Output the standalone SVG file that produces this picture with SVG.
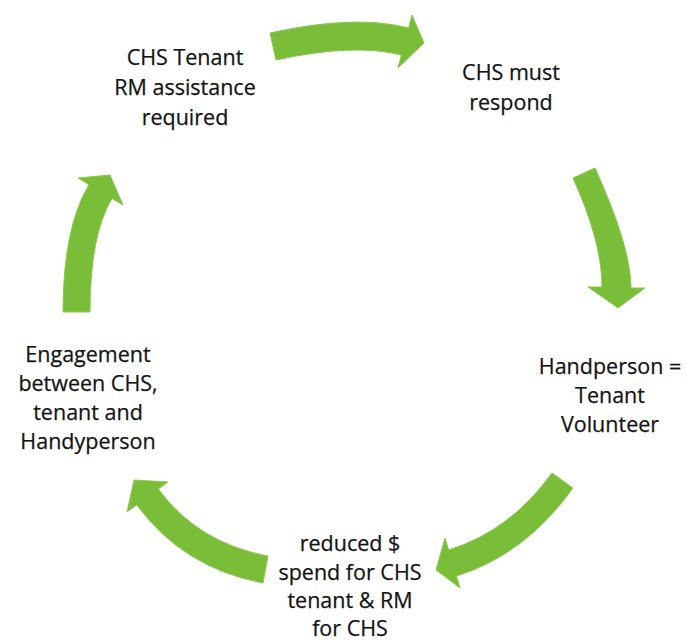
<svg xmlns="http://www.w3.org/2000/svg" width="686" height="642" viewBox="0 0 686 642">
  <style>
    .arrow { fill: #7abd38; stroke: #8cc94f; stroke-width: 1; stroke-linejoin: round; }
    .label { font-family: "Open Sans", "Noto Sans", "Liberation Sans", sans-serif; font-size: 21.5px; fill: #141414; stroke: #141414; stroke-width: 0.25; text-anchor: middle; }
  </style>
  <rect width="686" height="642" fill="#ffffff"/>

  <!-- curved arrows of the cycle -->
  <g id="connectors">
    <path class="arrow" d="M270,33 Q355,14 408.6,28 L412,15 L424,43 L398,68 L401.4,55 Q354,43 276,60 Z"/>
    <path class="arrow" d="M573,178 L595,168 Q631,247 631,288 L645,288 L618,308 L588,287 L602,287 Q602,242 573,178 Z"/>
    <path class="arrow" d="M552,473 L573,488 Q525,555 456.4,576 L460,588 L436,570 L445,538 L448.6,550 Q510,531 552,473 Z"/>
    <path class="arrow" d="M268,556 L263,583 Q183,568 136.7,504.9 L127,512 L134,480 L168,482 L158.3,489.1 Q198,543 268,556 Z"/>
    <path class="arrow" d="M63,312 L90,312 Q90,235 112,198.5 L123,205 L110,175 L78,178 L89,184.5 Q63,228 63,312 Z"/>
  </g>

  <g id="node-request">
    <text class="label" x="185" y="65">CHS Tenant</text>
    <text class="label" x="185" y="95">RM assistance</text>
    <text class="label" x="185" y="125">required</text>
  </g>

  <g id="node-respond">
    <text class="label" x="511" y="80">CHS must</text>
    <text class="label" x="511" y="110">respond</text>
  </g>

  <g id="node-handperson">
    <text class="label" x="610" y="374">Handperson =</text>
    <text class="label" x="610" y="403">Tenant</text>
    <text class="label" x="610" y="432">Volunteer</text>
  </g>

  <g id="node-reduced">
    <text class="label" x="350" y="551">reduced $</text>
    <text class="label" x="350" y="580">spend for CHS</text>
    <text class="label" x="350" y="608">tenant &amp; RM</text>
    <text class="label" x="350" y="636">for CHS</text>
  </g>

  <g id="node-engagement">
    <text class="label" x="88" y="362">Engagement</text>
    <text class="label" x="88" y="391">between CHS,</text>
    <text class="label" x="88" y="420">tenant and</text>
    <text class="label" x="88" y="449">Handyperson</text>
  </g>
</svg>
